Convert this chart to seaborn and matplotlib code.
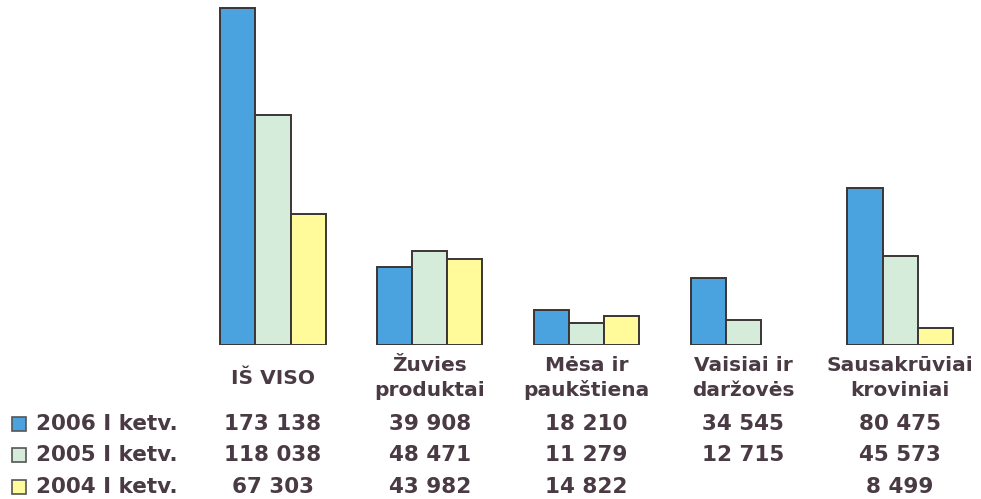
import numpy as np
import pandas as pd
import seaborn as sns
import matplotlib.pyplot as plt
from matplotlib.patches import Rectangle
from matplotlib.transforms import blended_transform_factory

categories = ["IŠ VISO", "Žuvies\nproduktai", "Mėsa ir\npaukštiena", "Vaisiai ir\ndaržovės", "Sausakrūviai\nkroviniai"]
series = ["2006 I ketv.", "2005 I ketv.", "2004 I ketv."]
v2006 = [173138, 39908, 18210, 34545, 80475]
v2005 = [118038, 48471, 11279, 12715, 45573]
v2004 = [67303, 43982, 14822, np.nan, 8499]
colors = ["#4aa3df", "#d5ecda", "#fffb9a"]

text_color = "#4a3a44"
edge_color = "#3b3535"

rows = []
for name, vals in zip(series, [v2006, v2005, v2004]):
    for cat, v in zip(categories, vals):
        rows.append({"cat": cat, "series": name, "value": v})
df = pd.DataFrame(rows)

sns.set_style("white")
plt.rcParams["font.family"] = ["DejaVu Sans"]

fig = plt.figure(figsize=(9.81, 4.99), dpi=100)
ax = fig.add_axes([0, 0.3086, 1, 0.6914])

sns.barplot(data=df, x="cat", y="value", hue="series", order=categories,
            hue_order=series, palette=colors, saturation=1, width=0.67, ax=ax,
            edgecolor=edge_color, linewidth=1.4, legend=False)

ax.set_xlim(-1.7416, 4.5167)
ax.set_ylim(0, 177250)
ax.axis("off")

trans = blended_transform_factory(ax.transData, fig.transFigure)

# category labels under the groups
for i, cat in enumerate(categories):
    ax.text(i, 1 - 378 / 499, cat, transform=trans, ha="center", va="center",
            fontsize=14.5, fontweight="bold", color=text_color, linespacing=1.35)

# value table
row_y = [424, 455, 487]
for name, vals, col, y in zip(series, [v2006, v2005, v2004], colors, row_y):
    yf = 1 - y / 499
    for i, v in enumerate(vals):
        if np.isnan(v):
            continue
        label = f"{v:,.0f}".replace(",", " ")
        ax.text(i, yf, label, transform=trans, ha="center", va="center",
                fontsize=15.5, fontweight="bold", color=text_color)
    fig.add_artist(Rectangle((12 / 981, yf - 7 / 499), 14 / 981, 14 / 499,
                             transform=fig.transFigure, facecolor=col,
                             edgecolor="#555555", linewidth=1.2))
    fig.text(36 / 981, yf, name, ha="left", va="center", fontsize=15.5,
             fontweight="bold", color=text_color)

fig.savefig("out.png", dpi=100)
